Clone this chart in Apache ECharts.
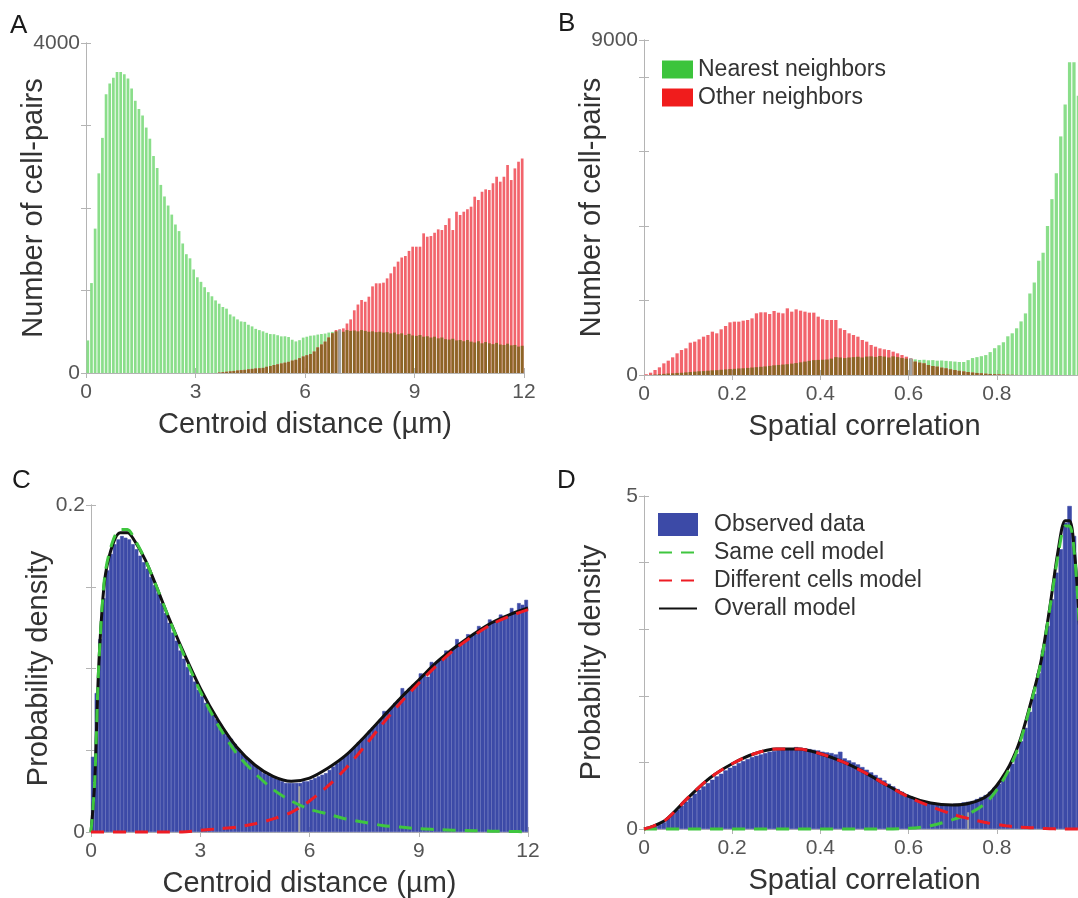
<!DOCTYPE html>
<html><head><meta charset="utf-8">
<script src="https://cdn.jsdelivr.net/npm/echarts/dist/echarts.min.js"></script>
<style>html,body{margin:0;padding:0;background:#fff}#c{width:1078px;height:898px}</style>
</head><body><div id="c"></div>
<script>
// ---------- Panel A: centroid distance histogram counts (0.1 µm bins, 0-12 µm) ----------
const aNearest = [
 395,1090,1750,2420,2850,3380,3510,3580,3650,3650,
 3620,3570,3450,3300,3200,3120,2975,2840,2630,2485,
 2280,2140,2030,1920,1800,1720,1570,1440,1390,1255,
 1160,1105,1040,980,930,880,840,800,780,710,
 685,650,625,620,585,565,535,520,505,487,
 472,470,458,444,445,436,403,383,398,429,
 440,452,456,466,473,478,490,498,505,505,
 500,520,510,515,505,520,510,500,505,495,
 500,490,495,480,490,470,480,460,475,455,
 450,460,440,445,430,440,420,430,410,405,
 415,395,400,385,400,380,370,385,360,375,
 360,350,365,345,340,355,335,340,320,330];
const aOther = [
 0,0,0,0,0,0,0,0,0,0,
 0,0,0,0,0,0,0,0,0,0,
 0,0,0,0,0,0,0,0,0,0,
 0,0,0,0,0,0,5,10,15,20,
 25,30,35,38,45,50,55,58,62,75,
 85,97,105,115,125,135,150,160,180,200,
 215,230,260,310,345,380,430,481,521,530,
 541,600,650,760,830,885,864,925,1050,1087,
 1087,1095,1147,1208,1289,1350,1400,1418,1480,1531,
 1531,1531,1693,1652,1660,1700,1741,1733,1794,1875,
 1733,1955,1915,1955,1985,2016,2137,2097,2197,2226,
 2218,2300,2379,2319,2379,2521,2339,2480,2561,2600];
const aSplitX = 6.95, aSplitTop = 520;

// ---------- Panel B: spatial correlation histogram counts (0.01 bins, 0-1) ----------
const bNearest = [
 0,5,10,20,30,40,45,55,60,70,
 80,90,100,105,115,125,130,140,150,160,
 165,175,180,190,200,210,220,230,245,260,
 270,280,290,305,320,340,360,380,400,405,
 410,415,440,480,470,455,470,480,490,470,
 495,500,485,510,495,470,500,480,455,440,
 430,420,405,410,395,400,385,390,380,370,
 360,350,350,400,455,480,505,535,615,720,
 800,880,1040,1120,1255,1440,1655,2190,2485,3070,
 3285,4005,4725,5420,6410,7265,8400,8400,7500,5000];
const bOther = [
 20,62,134,206,313,385,475,582,672,716,
 869,896,958,1030,1075,1164,1120,1227,1317,1415,
 1433,1433,1460,1478,1522,1657,1684,1684,1639,1720,
 1675,1657,1791,1702,1764,1729,1702,1675,1675,1568,
 1496,1478,1478,1478,1254,1209,1120,1075,1030,940,
 896,806,761,716,690,672,627,582,537,492,
 448,358,331,313,269,242,224,197,179,152,
 134,112,95,80,65,55,45,35,28,20,
 15,10,6,4,2,1,0,0,0,0,
 0,0,0,0,0,0,0,0,0,0];
const bSplitX = 0.605, bSplitTop = 450;

// ---------- Panel C: probability density vs centroid distance ----------
const cObserved = [
 0.046,0.085,0.118,0.143,0.160,0.170,0.176,0.179,0.181,0.180,
 0.179,0.176,0.173,0.169,0.165,0.161,0.156,0.151,0.146,0.140,
 0.134,0.128,0.122,0.117,0.111,0.106,0.101,0.096,0.092,0.087,
 0.083,0.079,0.076,0.072,0.069,0.066,0.062,0.059,0.057,0.054,
 0.051,0.048,0.046,0.044,0.042,0.040,0.038,0.036,0.035,0.034,
 0.033,0.032,0.031,0.030,0.030,0.030,0.030,0.030,0.031,0.031,
 0.032,0.033,0.034,0.035,0.036,0.038,0.040,0.042,0.044,0.046,
 0.048,0.050,0.052,0.055,0.057,0.059,0.062,0.064,0.066,0.069,
 0.074,0.074,0.076,0.079,0.081,0.088,0.086,0.088,0.090,0.092,
 0.097,0.097,0.095,0.104,0.103,0.105,0.107,0.111,0.110,0.112,
 0.118,0.115,0.117,0.121,0.120,0.121,0.126,0.124,0.125,0.130,
 0.128,0.129,0.133,0.131,0.132,0.137,0.134,0.140,0.139,0.142];
const cModelX  = [0,0.1,0.2,0.3,0.4,0.6,0.8,1.0,1.2,1.5,1.8,2.1,2.5,3,3.5,4,4.5,5,5.5,6,6.5,7,7.5,8,8.5,9,9.5,10,10.5,11,11.5,12];
const cOverall = [0,0.03,0.095,0.135,0.158,0.176,0.183,0.183,0.178,0.166,0.150,0.133,0.112,0.088,0.068,0.052,0.041,0.034,0.031,0.033,0.039,0.047,0.058,0.070,0.082,0.093,0.104,0.113,0.121,0.128,0.133,0.137];
const cSame    = [0,0.03,0.095,0.136,0.160,0.178,0.185,0.185,0.179,0.166,0.150,0.133,0.111,0.086,0.065,0.048,0.036,0.026,0.019,0.014,0.011,0.008,0.006,0.004,0.003,0.002,0.0015,0.001,0.0008,0.0005,0.0003,0.0002];
const cDiff    = [0,0,0,0,0,0,0,0,0,0,0,0,0,0.001,0.002,0.003,0.005,0.008,0.012,0.019,0.028,0.039,0.052,0.066,0.079,0.091,0.102,0.112,0.120,0.127,0.132,0.136];
const cSplitX = 5.72, cSplitTop = 0.028;

// ---------- Panel D: probability density vs spatial correlation ----------
const dObserved = [
 0.01,0.02,0.04,0.07,0.10,0.17,0.23,0.29,0.35,0.41,
 0.47,0.53,0.59,0.64,0.69,0.74,0.79,0.83,0.88,0.92,
 0.95,0.99,1.02,1.05,1.08,1.10,1.12,1.14,1.16,1.17,
 1.18,1.19,1.20,1.21,1.23,1.22,1.21,1.20,1.19,1.18,
 1.16,1.15,1.14,1.12,1.16,1.06,1.03,1.00,0.97,0.93,
 0.89,0.85,0.81,0.77,0.73,0.68,0.64,0.60,0.56,0.52,
 0.49,0.46,0.43,0.41,0.40,0.39,0.38,0.38,0.37,0.37,
 0.38,0.38,0.40,0.41,0.42,0.45,0.48,0.51,0.56,0.62,
 0.68,0.76,0.86,0.98,1.13,1.32,1.52,1.76,2.03,2.34,
 2.68,3.05,3.45,3.85,4.20,4.60,4.85,4.40,3.50,2.00];
const dModelX  = [0,0.02,0.05,0.1,0.15,0.2,0.25,0.3,0.35,0.4,0.45,0.5,0.55,0.6,0.65,0.7,0.74,0.78,0.82,0.85,0.88,0.9,0.92,0.94,0.955,0.965,0.975,0.985,1.0];
const dSame    = [0,0,0,0,0,0,0,0,0,0,0,0,0,0.01,0.05,0.14,0.24,0.42,0.80,1.25,1.95,2.50,3.30,4.15,4.55,4.55,4.20,3.30,1.50];
const dDiff    = [0,0.04,0.14,0.47,0.77,0.98,1.13,1.20,1.20,1.13,1.01,0.85,0.66,0.48,0.34,0.22,0.15,0.09,0.05,0.03,0.02,0.01,0.005,0,0,0,0,0,0];
const dOverall = [0,0.04,0.14,0.47,0.77,0.98,1.13,1.20,1.20,1.13,1.01,0.85,0.66,0.49,0.39,0.36,0.39,0.51,0.85,1.28,1.97,2.51,3.32,4.22,4.63,4.63,4.25,3.35,1.50];
const dSplitX = 0.735, dSplitTop = 0.25;

// ---------- labels ----------
const panelLetters = ['A','B','C','D'];
const xNames = ['Centroid distance (µm)','Spatial correlation','Centroid distance (µm)','Spatial correlation'];
const yNames = ['Number of cell-pairs','Number of cell-pairs','Probability density','Probability density'];
const legendB = ['Nearest neighbors','Other neighbors'];
const legendD = ['Observed data','Same cell model','Different cells model','Overall model'];

// ---------- styling ----------
const FONT = "'Liberation Sans', Arial, Helvetica, sans-serif";
const AX = '#b4b4b4';
const GREEN = '#8ade8a', RED = '#f2646c', OVER = '#8c6526', BLUE = '#3c4aa7';
const DASH = [13, 9];
const grids = [
  {left: 86, top: 43, width: 438, height: 330},
  {left: 644, top: 40, width: 441, height: 335},
  {left: 91, top: 505, width: 437, height: 327},
  {left: 644, top: 496, width: 441, height: 333}
];
const xSpec = [{max:12, interval:3}, {max:1, interval:0.2}, {max:12, interval:3}, {max:1, interval:0.2}];
const ySpec = [{max:4000, interval:1000}, {max:9000, interval:2000}, {max:0.2, interval:0.05}, {max:5, interval:1}];
const binCounts = [aNearest.length, bNearest.length, cObserved.length, dObserved.length];

const xAxes = [], yAxes = [];
grids.forEach((g, k) => {
  const common = {gridIndex: k, type: 'value', min: 0, max: xSpec[k].max, interval: xSpec[k].interval,
    splitLine: {show: false},
    axisLine: {show: true, lineStyle: {color: AX, width: 1}},
    axisTick: {show: true, inside: true, length: 5, lineStyle: {color: AX}}};
  xAxes.push(Object.assign({}, common, {position: 'bottom',
    axisLabel: {fontSize: 21, color: '#555', fontFamily: FONT, margin: 9},
    name: xNames[k], nameLocation: 'middle', nameGap: 37, nameMoveOverlap: false,
    nameTextStyle: {fontSize: 29, color: '#333', fontFamily: FONT}}));
  xAxes.push(Object.assign({}, common, {position: 'top', axisLabel: {show: false}}));
  xAxes.push({gridIndex: k, type: 'category', show: false, position: 'bottom',
    data: Array.from({length: binCounts[k]}, (_, i) => String(i)), boundaryGap: true});
  const ymax = ySpec[k].max;
  const ycommon = {gridIndex: k, type: 'value', min: 0, max: ymax, interval: ySpec[k].interval,
    splitLine: {show: false},
    axisLine: {show: true, lineStyle: {color: AX, width: 1}},
    axisTick: {show: true, inside: true, length: 5, lineStyle: {color: AX}}};
  yAxes.push(Object.assign({}, ycommon, {position: 'left',
    axisLabel: {fontSize: 21, color: '#555', fontFamily: FONT, margin: 6,
      formatter: v => (Math.abs(v) < 1e-12 || Math.abs(v - ymax) < 1e-9) ? String(+v.toFixed(6)) : ''},
    name: yNames[k], nameLocation: 'middle', nameGap: 38, nameMoveOverlap: false,
    nameTextStyle: {fontSize: 29, color: '#333', fontFamily: FONT}}));
  yAxes.push(Object.assign({}, ycommon, {position: 'right', axisLabel: {show: false}}));
});

function bars(name, data, color, k, gap, extra) {
  return Object.assign({type: 'bar', name, data, xAxisIndex: k*3+2, yAxisIndex: k*2,
    barGap: '-100%', barCategoryGap: gap, itemStyle: {color}, silent: true, z: 2}, extra || {});
}
function curve(name, xs, ys, k, style, z) {
  return {type: 'line', name, xAxisIndex: k*3, yAxisIndex: k*2,
    data: xs.map((x, i) => [x, ys[i]]), smooth: 0.3,
    symbol: 'none', showSymbol: false, clip: false, silent: true,
    lineStyle: style, itemStyle: {color: style.color}, z};
}
function split(x, top, k, w) {
  return {type: 'line', xAxisIndex: k*3, yAxisIndex: k*2, data: [[x, 0], [x, top]],
    symbol: 'none', silent: true, lineStyle: {color: '#a3a3a3', width: w}, z: 3};
}

const series = [
  bars('Nearest neighbors', aNearest, GREEN, 0, '26%'),
  bars('Other neighbors', aOther, RED, 0, '26%'),
  bars('overlapA', aNearest.map((v, i) => Math.min(v, aOther[i])), OVER, 0, '26%'),
  split(aSplitX, aSplitTop, 0, 3),
  bars('Nearest neighbors', bNearest, GREEN, 1, '26%'),
  bars('Other neighbors', bOther, RED, 1, '26%'),
  bars('overlapB', bNearest.map((v, i) => Math.min(v, bOther[i])), OVER, 1, '26%'),
  split(bSplitX, bSplitTop, 1, 3),
  bars('Observed data', cObserved, BLUE, 2, '0%', {itemStyle: {color: BLUE, borderColor: BLUE, borderWidth: 0.6}}),
  split(cSplitX, cSplitTop, 2, 2),
  curve('Overall model', cModelX, cOverall, 2, {color: '#111', width: 3}, 4),
  curve('Same cell model', cModelX, cSame, 2, {color: '#3fc63f', width: 3, type: DASH}, 5),
  curve('Different cells model', cModelX, cDiff, 2, {color: '#ee1c24', width: 3, type: DASH}, 6),
  bars('Observed data', dObserved, BLUE, 3, '0%', {itemStyle: {color: BLUE, borderColor: BLUE, borderWidth: 0.6}}),
  split(dSplitX, dSplitTop, 3, 2),
  curve('Overall model', dModelX, dOverall, 3, {color: '#111', width: 3}, 4),
  curve('Same cell model', dModelX, dSame, 3, {color: '#3fc63f', width: 3, type: DASH}, 5),
  curve('Different cells model', dModelX, dDiff, 3, {color: '#ee1c24', width: 3, type: DASH}, 6)
];

const letterPos = [{left: 10, top: 13}, {left: 558, top: 11}, {left: 12, top: 468}, {left: 557, top: 468}];
const hideSym = {opacity: 0};
const option = {
  animation: false,
  backgroundColor: '#fff',
  textStyle: {fontFamily: FONT},
  title: panelLetters.map((t, i) => Object.assign({text: t, padding: 0,
    textStyle: {fontSize: 26, fontWeight: 'normal', color: '#1a1a1a', fontFamily: FONT}}, letterPos[i])),
  grid: grids.map(g => Object.assign({outerBoundsMode: 'none', containLabel: false}, g)),
  xAxis: xAxes,
  yAxis: yAxes,
  legend: [
    {orient: 'vertical', left: 662, top: 58, padding: 0, itemWidth: 31, itemHeight: 18, itemGap: 5,
     selectedMode: false,
     textStyle: {fontSize: 23, color: '#333', fontFamily: FONT},
     data: [{name: legendB[0], icon: 'rect', itemStyle: {color: '#3cc43c'}},
            {name: legendB[1], icon: 'rect', itemStyle: {color: '#f01c1c'}}]},
    {orient: 'vertical', left: 658, top: 513, padding: 0, itemWidth: 38, itemHeight: 21, itemGap: 5,
     selectedMode: false,
     textStyle: {fontSize: 23, color: '#333', fontFamily: FONT, padding: [0, 0, 0, 12]},
     data: [{name: legendD[0], icon: 'rect'},
            {name: legendD[1], itemStyle: hideSym},
            {name: legendD[2], itemStyle: hideSym},
            {name: legendD[3], itemStyle: hideSym}]}
  ],
  series
};
const chart = echarts.init(document.getElementById('c'));
chart.setOption(option);
</script></body></html>
